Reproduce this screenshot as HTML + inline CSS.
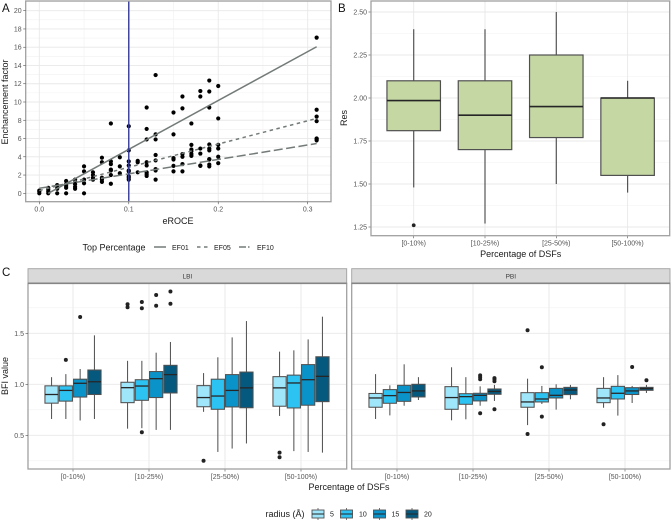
<!DOCTYPE html>
<html>
<head>
<meta charset="utf-8">
<title>Enrichment and BFI chart panels</title>
<style>
html,body{margin:0;padding:0;background:#fff;width:672px;height:521px;overflow:hidden}
svg{display:block;font-family:"Liberation Sans",sans-serif;filter:blur(0.3px)}
</style>
</head>
<body>
<svg id="fig" width="672" height="521" viewBox="0 0 672 521" xmlns="http://www.w3.org/2000/svg"></svg>
<script>
// Panel A data
const scatterX = [0,0.01,0.02,0.03,0.04,0.05,0.06,0.07,0.08,0.09,0.1,0.11,0.12,0.13,0.15,0.16,0.17,0.18,0.19,0.2,0.31];
const scatterY = [
 [0,0.2,0.3],[0,0.2,0.4,0.6],[0,0.5,0.7,0.9],[0,0.6,0.8,1.0,1.35],[0.5,0.7,1.0,1.3,1.5],
 [0,1.1,1.5,2.4,2.95],[1.5,1.7,2.0,2.3],[1.25,1.5,1.7,3.4,3.9],[1.05,2.0,2.5,2.6,3.2,3.5,7.65],
 [2.2,2.95,3.95],[1.5,1.7,1.85,2.4,2.5,3.05,3.5,4.7,7.35],[2.3,3.4,3.55],[1.9,2.1,2.3,3.05,3.4,5.9,7.05,9.4],
 [1.5,2.5,2.65,3.6,4.2,5.9,6.45,12.95],[2.4,3.0,3.7,3.85,6.45,8.85],[2.4,3.2,4.0,4.3,9.3,10.6],
 [4.1,4.3,4.6,4.8,5.3,7.65],[3.0,3.05,4.35,4.9,10.6,11.2],[2.95,3.15,3.7,3.75,4.7,4.9,5.35,9.4,11.15,12.35],
 [3.3,4.0,4.9,5.3,8.2,11.75],[5.8,5.95,6.0,7.9,8.4,9.15,17.05]
];
const ef01X = [0.01,0.31];
const ef01Y = [0,16.05];
const ef05X = [0,0.31];
const ef05Y = [0.3,8.2];
const ef10X = [0,0.31];
const ef10Y = [0.55,5.45];
const cutoffX = [0.1];
const aXTicks = [0,0.1,0.2,0.3];
const aYTicks = [0,2,4,6,8,10,12,14,16,18,20];

// Panel B data
const categories = ["[0-10%)","[10-25%)","[25-50%)","[50-100%)"];
const resLow = [1.48,1.27,1.5,1.45];
const resQ1 = [1.81,1.7,1.77,1.55];
const resMed = [1.985,1.9,1.95,2.0];
const resQ3 = [2.1,2.1,2.25,2.0];
const resHigh = [2.4,2.4,2.5,2.1];
const resOutliers = [[1.26],[],[],[]];
const bYTicks = ["1.25","1.50","1.75","2.00","2.25","2.50"];

// Panel C data: [low, q1, median, q3, high] per category, per radius
const radii = ["5","10","15","20"];
const facets = ["LBI","PBI"];
const lbiBoxes = [
 [[0.66,0.815,0.90,0.985,1.07],[0.66,0.835,0.94,0.985,1.10],[0.645,0.875,1.01,1.05,1.15],[0.66,0.90,1.025,1.14,1.48]],
 [[0.565,0.82,0.967,1.02,1.23],[0.57,0.843,0.983,1.045,1.23],[0.553,0.87,1.055,1.125,1.31],[0.553,0.915,1.095,1.186,1.415]],
 [[0.73,0.78,0.87,0.987,1.11],[0.337,0.755,0.885,1.05,1.265],[0.37,0.778,0.94,1.095,1.46],[0.42,0.77,0.965,1.12,1.62]],
 [[0.69,0.785,0.965,1.075,1.32],[0.345,0.768,1.013,1.09,1.333],[0.337,0.795,1.045,1.193,1.44],[0.33,0.83,1.078,1.27,1.663]]
];
const lbiOutliers = [
 [[],[1.24],[1.66],[]],
 [[1.785,1.755],[1.807,1.745,0.53],[1.876,1.77],[1.91,1.79]],
 [[0.25],[],[],[]],
 [[0.33,0.285],[],[],[]]
];
const pbiBoxes = [
 [[0.66,0.775,0.866,0.91,1.10],[0.695,0.814,0.889,0.948,0.99],[0.79,0.833,0.92,0.99,1.196],[0.846,0.876,0.935,1.0,1.07]],
 [[0.647,0.755,0.87,0.977,1.167],[0.657,0.804,0.879,0.908,1.07],[0.79,0.837,0.892,0.912,0.98],[0.837,0.902,0.93,0.954,0.994]],
 [[0.6,0.775,0.827,0.918,1.055],[0.807,0.827,0.856,0.918,0.984],[0.752,0.866,0.892,0.96,1.0],[0.853,0.899,0.944,0.97,0.994]],
 [[0.77,0.82,0.866,0.96,1.07],[0.693,0.856,0.912,0.98,1.09],[0.817,0.9,0.935,0.967,0.984],[0.915,0.941,0.958,0.97,0.994]]
];
const pbiOutliers = [
 [[],[],[],[]],
 [[],[],[1.088,1.07,1.05,0.716],[1.06,1.05,1.03,0.755]],
 [[1.53,0.513],[1.167,0.683],[],[]],
 [[0.608],[],[1.17],[1.04]]
];
const cYTicks = [0.5,1.0,1.5];
const cYMinor = [0.25,0.75,1.25,1.75];

const NS = "http://www.w3.org/2000/svg";
const fig = document.getElementById("fig");
const GRID = "#e8e8e8", GRID2 = "#f1f1f1", BORDER = "#a0a0a0", TICK = "#4d4d4d", TICKTXT = "#555", INK = "#1a1a1a";
const radiusFill = ["#9fe6fb","#2cc3f3","#0a93c9","#05597f"];

function mk(tag, attrs, parent, text) {
  const el = document.createElementNS(NS, tag);
  for (const k in attrs) el.setAttribute(k, attrs[k]);
  if (text !== undefined) el.textContent = text;
  (parent || fig).appendChild(el);
  return el;
}
function group(name) {
  const g = mk("g", {});
  
  
  return g;
}
function ln(p, x1, y1, x2, y2, stroke, w, dash) {
  const a = {x1:x1, y1:y1, x2:x2, y2:y2, stroke:stroke, "stroke-width":w};
  if (dash) a["stroke-dasharray"] = dash;
  return mk("line", a, p);
}
function txt(p, x, y, s, size, fill, anchor, rot) {
  const a = {x:x, y:y, "font-size":size, fill:fill, "text-anchor":anchor || "middle"};
  if (rot) a.transform = "rotate(" + rot + " " + x + " " + y + ")";
  return mk("text", a, p, s);
}
function linear(d0, d1, r0, r1) { return v => r0 + (v - d0) * (r1 - r0) / (d1 - d0); }

/* ---------- Panel A ---------- */
const ax = linear(0, 0.3, 39.3, 307.7);
const ay = linear(0, 20, 193.3, 10.7);
const A = {l:25.7, r:331, t:1, b:201.7};
const gA = group("panel-a");
mk("rect", {x:A.l, y:A.t, width:A.r-A.l, height:A.b-A.t, fill:"#fff"}, gA);
aYTicks.forEach(v => { ln(gA, A.l, ay(v+1), A.r, ay(v+1), GRID2, 0.6); });
[0.05,0.15,0.25].forEach(v => { ln(gA, ax(v), A.t, ax(v), A.b, GRID2, 0.6); });
aYTicks.forEach(v => { ln(gA, A.l, ay(v), A.r, ay(v), GRID, 0.9); });
aXTicks.forEach(v => { ln(gA, ax(v), A.t, ax(v), A.b, GRID, 0.9); });
scatterX.forEach((x, i) => {
  scatterY[i].forEach(y => {
    const pt = mk("circle", {cx:ax(x), cy:ay(y), r:2.1, fill:"#000"}, gA);
    
    
  });
});
const l1 = ln(gA, ax(ef01X[0]), ay(ef01Y[0]), ax(ef01X[1]), ay(ef01Y[1]), "#737b78", 1.5);


const l2 = ln(gA, ax(ef05X[0]), ay(ef05Y[0]), ax(ef05X[1]), ay(ef05Y[1]), "#737b78", 1.5, "3.5 3.5");


const l3 = ln(gA, ax(ef10X[0]), ay(ef10Y[0]), ax(ef10X[1]), ay(ef10Y[1]), "#737b78", 1.5, "9 3.5");


const cut = ln(gA, ax(cutoffX[0]), A.t, ax(cutoffX[0]), A.b, "#343a98", 1.4);


mk("rect", {x:A.l, y:A.t, width:A.r-A.l, height:A.b-A.t, fill:"none", stroke:BORDER, "stroke-width":1.3}, gA);
aXTicks.forEach(v => {
  ln(gA, ax(v), A.b, ax(v), A.b+2.5, TICK, 0.6);
  const t = txt(gA, ax(v), A.b+10, v.toFixed(1), 7, TICKTXT);
  
  
});
aYTicks.forEach(v => {
  ln(gA, A.l-2.5, ay(v), A.l, ay(v), TICK, 0.6);
  const t = txt(gA, A.l-4, ay(v)+2.5, String(v), 7, TICKTXT, "end");
  
  
});
const axt = txt(gA, 178, 224, "eROCE", 9, INK);


const ayt = txt(gA, 8, 102, "Enchancement factor", 9, INK, "middle", -90);



const lgA = group("line-legend");
txt(lgA, 82.5, 250.5, "Top Percentage", 9, INK, "start");
ln(lgA, 154, 247, 166, 247, "#737b78", 1.5);
txt(lgA, 172, 250, "EF01", 7, INK, "start");
ln(lgA, 197, 247, 209, 247, "#737b78", 1.5, "3.5 3.5");
txt(lgA, 214, 250, "EF05", 7, INK, "start");
ln(lgA, 239, 247, 251, 247, "#737b78", 1.5, "7 2 1.5 2");
txt(lgA, 257, 250, "EF10", 7, INK, "start");

const la = txt(fig, 2, 12, "A", 11.5, "#111", "start");


const lb = txt(fig, 338, 12, "B", 11.5, "#111", "start");


const lc = txt(fig, 2, 276, "C", 11.5, "#111", "start");



/* ---------- Box helper ---------- */
function drawBox(p, cx, w, y, s, fill, lw, medW, outR, outs, name) {
  const g = mk("g", {}, p);
  
  
  ln(g, cx, y(s[0]), cx, y(s[1]), "#555", lw);
  ln(g, cx, y(s[3]), cx, y(s[4]), "#555", lw);
  mk("rect", {x:cx-w/2, y:y(s[3]), width:w, height:y(s[1])-y(s[3]), fill:fill, stroke:"#505050", "stroke-width":lw}, g);
  ln(g, cx-w/2, y(s[2]), cx+w/2, y(s[2]), "#262626", medW);
  outs.forEach(o => { mk("circle", {cx:cx, cy:y(o), r:outR, fill:"#222"}, g); });
}

/* ---------- Panel B ---------- */
const by = linear(1.25, 2.5, 227, 12);
const bx = i => 413.7 + i * 71.3;
const B = {l:371, r:669.7, t:1, b:235.7};
const gB = group("panel-b");
mk("rect", {x:B.l, y:B.t, width:B.r-B.l, height:B.b-B.t, fill:"#fff"}, gB);
[1.375,1.625,1.875,2.125,2.375].forEach(v => { ln(gB, B.l, by(v), B.r, by(v), GRID2, 0.6); });
bYTicks.forEach(v => { ln(gB, B.l, by(+v), B.r, by(+v), GRID, 0.9); });
categories.forEach((c, i) => { ln(gB, bx(i), B.t, bx(i), B.b, GRID, 0.9); });
categories.forEach((c, i) => {
  drawBox(gB, bx(i), 53.5, by, [resLow[i],resQ1[i],resMed[i],resQ3[i],resHigh[i]], "#c5d8a4", 1.2, 1.6, 1.9, resOutliers[i], "res-box");
  ln(gB, bx(i), B.b, bx(i), B.b+2.5, TICK, 0.6);
  const t = txt(gB, bx(i), B.b+10, c, 7, TICKTXT);
  
  
});
bYTicks.forEach(v => {
  ln(gB, B.l-2.5, by(+v), B.l, by(+v), TICK, 0.6);
  const t = txt(gB, B.l-4, by(+v)+2.5, v, 7, TICKTXT, "end");
  
  
});
mk("rect", {x:B.l, y:B.t, width:B.r-B.l, height:B.b-B.t, fill:"none", stroke:BORDER, "stroke-width":1.3}, gB);
const bxt = txt(gB, 520.7, 257, "Percentage of DSFs", 9, INK);


const byt = txt(gB, 347, 118, "Res", 9, INK, "middle", -90);



/* ---------- Panel C ---------- */
const cy = linear(0.5, 1.5, 435.3, 333.3);
const facetGeo = [{l:28, r:346.7, c0:73}, {l:351.7, r:670, c0:397}];
const facetBoxes = [lbiBoxes, pbiBoxes];
const facetOut = [lbiOutliers, pbiOutliers];
const C = {t:283.3, b:469, st:268.7};
facets.forEach((name, f) => {
  const geo = facetGeo[f];
  const g = group("facet-" + name.toLowerCase());
  const strip = mk("rect", {x:geo.l, y:C.st, width:geo.r-geo.l, height:C.t-C.st, fill:"#d9d9d9", stroke:BORDER, "stroke-width":0.9}, g);
  
  
  txt(g, (geo.l+geo.r)/2, 278.5, name, 6.5, "#3a3a3a");
  mk("rect", {x:geo.l, y:C.t, width:geo.r-geo.l, height:C.b-C.t, fill:"#fff"}, g);
  cYMinor.forEach(v => { ln(g, geo.l, cy(v), geo.r, cy(v), GRID2, 0.7); });
  cYTicks.forEach(v => { ln(g, geo.l, cy(v), geo.r, cy(v), GRID, 0.9); });
  categories.forEach((c, i) => {
    const cx = geo.c0 + i * 76;
    ln(g, cx, C.t, cx, C.b, GRID, 0.9);
  });
  categories.forEach((c, i) => {
    const cx = geo.c0 + i * 76;
    radii.forEach((r, k) => {
      drawBox(g, cx + (k - 1.5) * 14.3, 13.2, cy, facetBoxes[f][i][k], radiusFill[k], 1.05, 1.3, 2, facetOut[f][i][k], "bfi-box");
    });
    ln(g, cx, C.b, cx, C.b+2.5, TICK, 0.6);
    const t = txt(g, cx, C.b+10, c, 7, TICKTXT);
    
    
  });
  mk("rect", {x:geo.l, y:C.t, width:geo.r-geo.l, height:C.b-C.t, fill:"none", stroke:BORDER, "stroke-width":1.3}, g);
  ln(g, geo.l, C.t, geo.r, C.t, "#858585", 1.7);
});
const gCA = group("panel-c-axes");
cYTicks.forEach(v => {
  ln(gCA, 25.5, cy(v), 28, cy(v), TICK, 0.6);
  const t = txt(gCA, 24, cy(v)+2.5, v.toFixed(1), 7, TICKTXT, "end");
  
  
});
const cxt = txt(gCA, 349, 490, "Percentage of DSFs", 9, INK);


const cyt = txt(gCA, 8, 376, "BFI value", 9, INK, "middle", -90);



/* ---------- Radius legend ---------- */
const lgC = group("radius-legend");
txt(lgC, 265.5, 517, "radius (Å)", 9, INK, "start");
const keyX = [312, 340.5, 373.5, 406];
const labX = [330, 359, 391.5, 424];
radii.forEach((r, k) => {
  const key = mk("g", {}, lgC);
  
  
  ln(key, keyX[k]+6, 508, keyX[k]+6, 520, "#555", 0.8);
  mk("rect", {x:keyX[k], y:510, width:12, height:8, fill:radiusFill[k], stroke:"#505050", "stroke-width":0.9}, key);
  ln(key, keyX[k], 514, keyX[k]+12, 514, "#262626", 1);
  txt(lgC, labX[k], 516.5, r, 7, INK, "start");
});
</script>
</body>
</html>
